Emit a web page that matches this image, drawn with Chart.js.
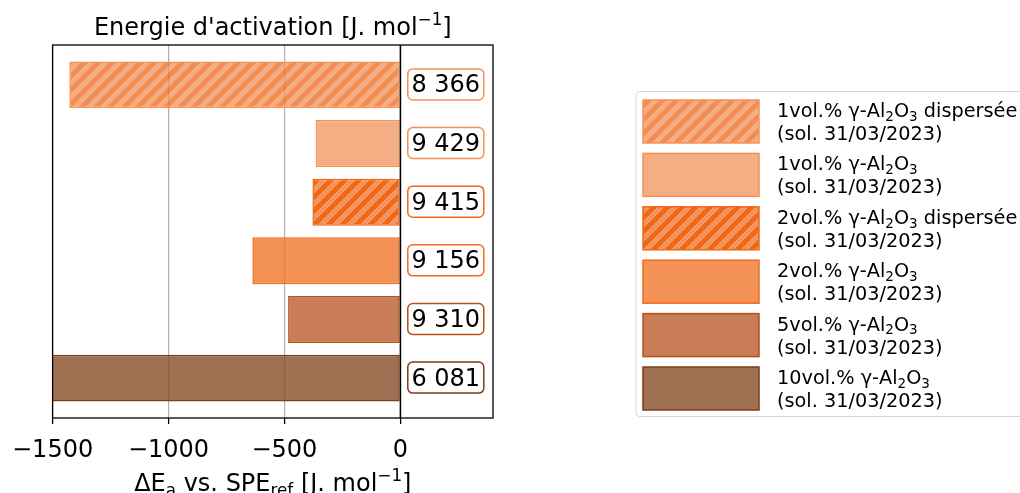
<!DOCTYPE html>
<html>
<head>
<meta charset="utf-8">
<script src="https://cdn.jsdelivr.net/npm/chart.js@4.4.1/dist/chart.umd.min.js"></script>
<style>
  html, body { margin: 0; padding: 0; background: #fff; }
  #chart { display: block; }
</style>
</head>
<body>
<canvas id="chart" width="1020" height="493"></canvas>
<script>
// Données (ΔEa par rapport à la référence, et Ea absolue affichée dans les cadres)
const labels = [
    "1vol.% γ-Al_{2}O_{3} dispersée\n(sol. 31/03/2023)",
    "1vol.% γ-Al_{2}O_{3}\n(sol. 31/03/2023)",
    "2vol.% γ-Al_{2}O_{3} dispersée\n(sol. 31/03/2023)",
    "2vol.% γ-Al_{2}O_{3}\n(sol. 31/03/2023)",
    "5vol.% γ-Al_{2}O_{3}\n(sol. 31/03/2023)",
    "10vol.% γ-Al_{2}O_{3}\n(sol. 31/03/2023)"
];
const deltaEa = [-1428, -365, -379, -638, -484, -3713];
const energies = [8366, 9429, 9415, 9156, 9310, 6081];
const xTicks = [-1500, -1000, -500, 0];

// styles
const baseColors = ['rgba(240,114,40,0.8)', '#F5AE83', '#F06716', 'rgba(240,119,45,0.8)', 'rgba(186,93,45,0.8)', 'rgba(136,76,39,0.8)'];
const hatchColors = ['rgba(242,151,96,0.8)', null, '#F4945C', null, null, null];
const edgeColors = ['#F4935A', '#F39155', '#F06716', '#F06E1E', '#B45019', '#7D3C19'];
const FONT = '"DejaVu Sans"';

const canvas = document.getElementById('chart');
const mainCtx = canvas.getContext('2d');

// hachures "/" semi-transparentes
function makeHatch(base, stripe) {
    const s = 14, h = 3, t = 2 * s;
    const c = document.createElement('canvas');
    c.width = t; c.height = t;
    const g = c.getContext('2d');
    g.fillStyle = base;
    g.fillRect(0, 0, t, t);
    const band = k => {
        g.beginPath();
        g.moveTo(k - h, 0); g.lineTo(k + h, 0); g.lineTo(0, k + h); g.lineTo(0, k - h);
        g.closePath();
    };
    [0, 1, 2, 3, 4].forEach(n => {
        const k = n * s;
        g.globalCompositeOperation = 'destination-out';
        band(k); g.fillStyle = '#000'; g.fill();
        g.globalCompositeOperation = 'source-over';
        band(k); g.fillStyle = stripe; g.fill();
    });
    return mainCtx.createPattern(c, 'repeat');
}

const fills = baseColors.map((c, i) => hatchColors[i] ? makeHatch(c, hatchColors[i]) : c);

// texte avec indices _{..} et exposants ^{..}
function richParts(str) {
    const parts = [];
    const re = /([_^])\{([^}]*)\}/g;
    let last = 0, m;
    while ((m = re.exec(str))) {
        if (m.index > last) parts.push({ t: str.slice(last, m.index), k: '' });
        parts.push({ t: m[2], k: m[1] });
        last = re.lastIndex;
    }
    if (last < str.length) parts.push({ t: str.slice(last), k: '' });
    return parts;
}

function drawRich(ctx, str, x, y, size, align) {
    const parts = richParts(str);
    const fontOf = p => (p.k ? size * 0.7 : size) + 'px ' + FONT;
    let w = 0;
    parts.forEach(p => { ctx.font = fontOf(p); p.w = ctx.measureText(p.t).width; w += p.w; });
    let cx = align === 'center' ? x - w / 2 : x;
    ctx.textAlign = 'left';
    ctx.textBaseline = 'alphabetic';
    parts.forEach(p => {
        ctx.font = fontOf(p);
        const dy = p.k === '_' ? size * 0.2 : (p.k === '^' ? -size * 0.42 : 0);
        ctx.fillText(p.t, cx, y + dy);
        cx += p.w;
    });
}

const fmt = n => String(n).replace(/\B(?=(\d{3})+(?!\d))/g, ' ');

// cadre + ligne zéro + étiquettes des valeurs
const valueBoxes = {
    id: 'valueBoxes',
    afterDatasetsDraw(chart) {
        const { ctx, chartArea: a, scales: { x, y } } = chart;
        const x0 = x.getPixelForValue(0);
        ctx.save();
        ctx.strokeStyle = '#000';
        ctx.lineWidth = 1.3;
        ctx.strokeRect(a.left, a.top, a.right - a.left, a.bottom - a.top);
        ctx.beginPath();
        ctx.moveTo(x0, a.top); ctx.lineTo(x0, a.bottom);
        ctx.stroke();

        energies.forEach((e, i) => {
            const yc = y.getPixelForValue(i);
            const bx = x0 + 7.5, bw = 76, bh = 31;
            ctx.beginPath();
            ctx.roundRect(bx, yc - 16, bw, bh, 5);
            ctx.fillStyle = '#fff';
            ctx.fill();
            ctx.lineWidth = 1.5;
            ctx.strokeStyle = edgeColors[i];
            ctx.stroke();
            ctx.fillStyle = '#000';
            ctx.font = '24px ' + FONT;
            ctx.textAlign = 'center';
            ctx.textBaseline = 'alphabetic';
            ctx.fillText(fmt(e), bx + bw / 2, yc + 7.5);
        });
        ctx.restore();
    }
};

// titres et légende à droite
const extras = {
    id: 'extras',
    afterDraw(chart) {
        const { ctx, chartArea: a } = chart;
        const cx = (a.left + a.right) / 2;
        ctx.save();
        ctx.fillStyle = '#000';
        drawRich(ctx, "Energie d'activation [J. mol^{−1}]", cx, 35, 24, 'center');
        drawRich(ctx, 'ΔE_{a} vs. SPE_{ref} [J. mol^{−1}]', cx, 491, 24, 'center');

        ctx.beginPath();
        ctx.roundRect(636, 91.5, 420, 325, 4);
        ctx.fillStyle = '#fff';
        ctx.fill();
        ctx.strokeStyle = '#d6d6d6';
        ctx.lineWidth = 1;
        ctx.stroke();

        labels.forEach((lab, i) => {
            const top = 100 + i * 53.4;
            ctx.fillStyle = fills[i];
            ctx.fillRect(643, top, 116, 43);
            ctx.strokeStyle = edgeColors[i];
            ctx.lineWidth = 1.5;
            ctx.strokeRect(643, top, 116, 43);
            ctx.fillStyle = '#000';
            lab.split('\n').forEach((line, j) => drawRich(ctx, line, 777, top + 17 + j * 23, 19.3, 'left'));
        });
        ctx.restore();
    }
};

new Chart(canvas, {
    type: 'bar',
    data: {
        datasets: [{
            data: deltaEa.map((v, i) => ({ x: v, y: i })),
            backgroundColor: fills,
            borderColor: edgeColors,
            borderWidth: 1.5,
            borderSkipped: false,
            barPercentage: 0.8,
            categoryPercentage: 1.0
        }]
    },
    options: {
        indexAxis: 'y',
        responsive: false,
        animation: false,
        layout: { padding: { left: 51, right: 527, top: 45, bottom: 0 } },
        plugins: {
            legend: { display: false },
            tooltip: { enabled: false },
            title: { display: false }
        },
        scales: {
            x: {
                type: 'linear',
                min: -1500,
                max: 400,
                afterBuildTicks: s => { s.ticks = xTicks.map(v => ({ value: v })); },
                afterFit: s => { s.height = 75; },
                ticks: {
                    color: '#000',
                    font: { family: 'DejaVu Sans', size: 24 },
                    padding: 12,
                    maxRotation: 0,
                    callback: v => (v < 0 ? '−' + Math.abs(v) : String(v))
                },
                grid: {
                    color: c => (c.tick && c.tick.value === 0 ? '#000' : '#b0b0b0'),
                    lineWidth: 1.2,
                    tickColor: '#000',
                    tickLength: 6,
                    tickWidth: 1.3
                },
                border: { display: false }
            },
            y: {
                type: 'linear',
                display: false,
                reverse: true,
                offset: false,
                min: -0.68,
                max: 5.68,
                afterBuildTicks: s => { s.ticks = labels.map((l, i) => ({ value: i })); }
            }
        }
    },
    plugins: [valueBoxes, extras]
});
</script>
</body>
</html>
